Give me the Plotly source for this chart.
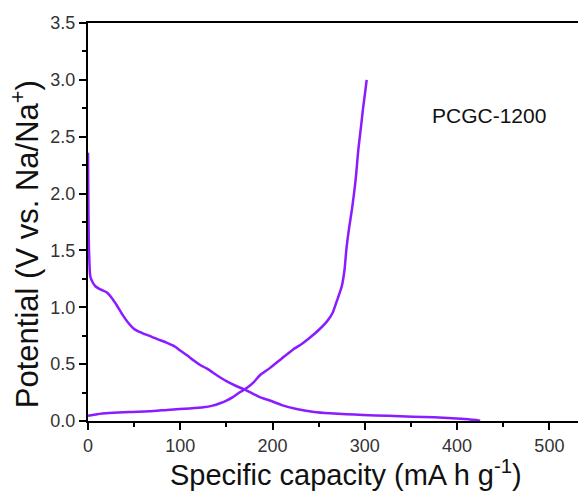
import plotly.graph_objects as go

# Discharge (sodiation) curve
discharge_x = [0, 0.3, 0.8, 1.5, 2.5, 5, 8, 14, 20.5, 26, 31, 37, 44, 50, 57, 66, 75, 85, 93,
               100, 107, 115, 122, 129, 140, 150, 160, 170, 180, 186, 197, 210, 226, 245,
               262, 280, 298, 325, 352, 375, 395, 412, 425]
discharge_y = [2.36, 2.0, 1.6, 1.4, 1.27, 1.22, 1.185, 1.155, 1.13, 1.08, 1.02, 0.94, 0.86,
               0.81, 0.78, 0.75, 0.72, 0.69, 0.66, 0.62, 0.58, 0.53, 0.49, 0.46, 0.40, 0.35,
               0.31, 0.275, 0.235, 0.21, 0.18, 0.14, 0.105, 0.08, 0.068, 0.06, 0.053, 0.046,
               0.038, 0.032, 0.025, 0.015, 0.003]

# Charge (desodiation) curve
charge_x = [0, 10, 23, 45, 66, 89, 110, 125, 135, 143, 150, 157, 164, 172, 180, 186, 197,
            210, 222, 232, 240, 250, 259, 265, 269, 272, 275, 278, 280, 283, 286, 290, 293,
            296, 298, 300, 302]
charge_y = [0.047, 0.06, 0.07, 0.08, 0.085, 0.1, 0.11, 0.12, 0.135, 0.156, 0.18, 0.21, 0.25,
            0.29, 0.345, 0.4, 0.465, 0.55, 0.627, 0.68, 0.73, 0.80, 0.876, 0.95, 1.04, 1.11,
            1.185, 1.33, 1.51, 1.7, 1.86, 2.12, 2.39, 2.6, 2.745, 2.87, 3.0]

x_ticks = [0, 100, 200, 300, 400, 500]
y_ticks = [0.0, 0.5, 1.0, 1.5, 2.0, 2.5, 3.0, 3.5]
label = "PCGC-1200"
x_title = "Specific capacity (mA h g<sup>-1</sup>)"
y_title = "Potential (V vs. Na/Na<sup>+</sup>)"

color = "#8A1CFF"
font = "Liberation Sans, Arial, sans-serif"

fig = go.Figure()
for xs, ys in ((discharge_x, discharge_y), (charge_x, charge_y)):
    fig.add_trace(go.Scatter(x=xs, y=ys, mode="lines",
                             line=dict(color=color, width=2.5, shape="spline", smoothing=0.6),
                             showlegend=False))

fig.add_annotation(x=371, y=2.69, xref="x", yref="y", text=label, showarrow=False,
                   xanchor="left", yanchor="middle",
                   font=dict(family=font, size=21, color="#111111"))

# axis titles placed as annotations to match the reference offsets
fig.add_annotation(x=0.527, y=-0.13, xref="paper", yref="paper", text=x_title,
                   showarrow=False, xanchor="center", yanchor="middle",
                   font=dict(family=font, size=29, color="#111111"))
fig.add_annotation(x=-0.128, y=0.445, xref="paper", yref="paper", text=y_title,
                   showarrow=False, xanchor="center", yanchor="middle", textangle=-90,
                   font=dict(family=font, size=31, color="#111111"))

fig.update_layout(
    width=578, height=491,
    margin=dict(l=88, r=0, t=23, b=70),
    paper_bgcolor="white", plot_bgcolor="white",
    font=dict(family=font, color="#333333"),
)
fig.update_xaxes(
    range=[0, 531], tickvals=x_ticks, ticktext=[str(v) for v in x_ticks],
    showgrid=False, zeroline=False,
    showline=True, linecolor="black", linewidth=2, mirror=True,
    ticks="outside", ticklen=7, tickwidth=2, tickcolor="black",
    minor=dict(dtick=50, ticks="outside", ticklen=4, tickwidth=2, tickcolor="black"),
    tickfont=dict(size=18, color="#333333"),
)
fig.update_yaxes(
    range=[0, 3.5], tickvals=y_ticks, ticktext=[f"{v:.1f}" for v in y_ticks],
    showgrid=False, zeroline=False,
    showline=True, linecolor="black", linewidth=2,
    ticks="outside", ticklen=7, tickwidth=2, tickcolor="black",
    minor=dict(dtick=0.25, ticks="outside", ticklen=4, tickwidth=2, tickcolor="black"),
    tickfont=dict(size=18, color="#333333"),
)

fig.write_html("out.html")
